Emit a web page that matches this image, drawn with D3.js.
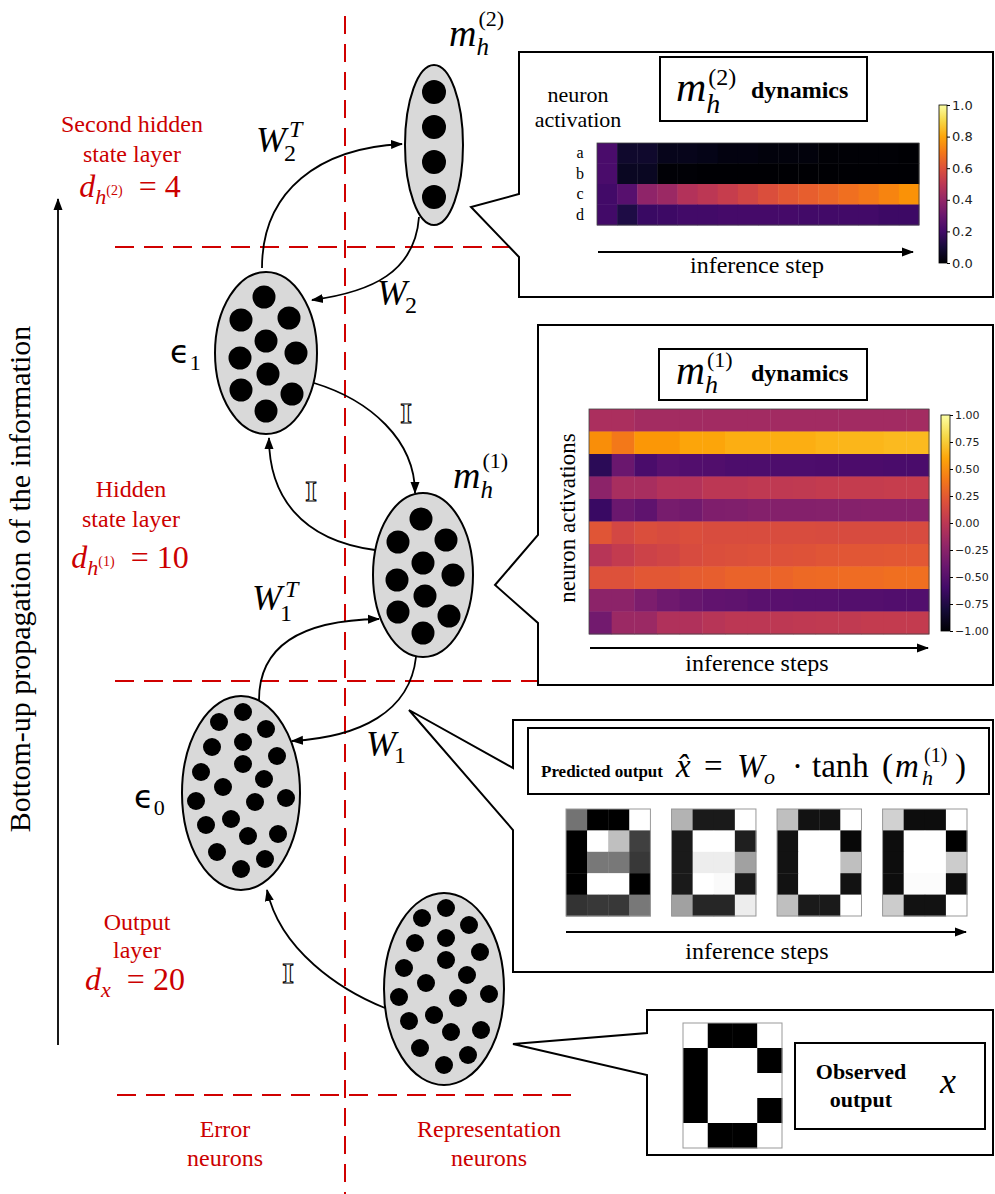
<!DOCTYPE html>
<meta charset="utf-8">
<head>
<script src="https://d3js.org/d3.v7.min.js"></script>
<style>
body { margin: 0; background: #fff; }
text { font-family: "Liberation Serif", "Times New Roman", serif; }
.cbar text { font-family: "DejaVu Sans", sans-serif; fill: #222; }
.eps { font-family: "DejaVu Sans", sans-serif; }
</style>
<div id="my_dataviz"></div>
</head>
<body>
<script>
// ---------- values ----------

// top heatmap : m_h^(2), 4 neurons x 16 inference steps, range 0..1
var m2Neurons = ["a", "b", "c", "d"];
var m2Activity = [
  [0.22, 0.08, 0.08, 0.05, 0.05, 0.04, 0.03, 0.03, 0.02, 0.02, 0.02, 0.01, 0.01, 0.01, 0.01, 0.00],
  [0.22, 0.06, 0.06, 0.01, 0.01, 0.00, 0.00, 0.00, 0.00, 0.00, 0.00, 0.00, 0.00, 0.00, 0.00, 0.00],
  [0.20, 0.25, 0.39, 0.42, 0.48, 0.50, 0.53, 0.56, 0.59, 0.62, 0.64, 0.66, 0.68, 0.70, 0.73, 0.76],
  [0.20, 0.12, 0.18, 0.19, 0.20, 0.20, 0.21, 0.21, 0.21, 0.21, 0.20, 0.20, 0.20, 0.20, 0.19, 0.19]
];
var m2Ticks = [0, 0.2, 0.4, 0.6, 0.8, 1.0];

// middle heatmap : m_h^(1), 10 neurons x 15 inference steps, range -1..1
var m1Activity = [
  [-0.08, -0.08, -0.12, -0.12, -0.13, -0.13, -0.13, -0.13, -0.13, -0.13, -0.13, -0.13, -0.13, -0.13, -0.12],
  [ 0.50,  0.40,  0.54,  0.54,  0.60,  0.60,  0.64,  0.64,  0.64,  0.64,  0.66,  0.67,  0.67,  0.68,  0.68],
  [-0.70, -0.40, -0.56, -0.50, -0.52, -0.53, -0.54, -0.54, -0.54, -0.54, -0.55, -0.55, -0.55, -0.56, -0.56],
  [-0.24, -0.10, -0.10, -0.04, -0.04,  0.00,  0.00,  0.02,  0.02,  0.03,  0.04,  0.05,  0.05,  0.06,  0.06],
  [-0.64, -0.40, -0.46, -0.34, -0.36, -0.30, -0.29, -0.28, -0.28, -0.28, -0.27, -0.27, -0.26, -0.26, -0.26],
  [ 0.22,  0.14,  0.18,  0.16,  0.18,  0.17,  0.17,  0.17,  0.17,  0.17,  0.16,  0.16,  0.16,  0.16,  0.16],
  [-0.02,  0.04,  0.10,  0.12,  0.16,  0.18,  0.19,  0.20,  0.20,  0.21,  0.22,  0.23,  0.23,  0.24,  0.24],
  [ 0.20,  0.20,  0.24,  0.24,  0.26,  0.28,  0.30,  0.30,  0.31,  0.33,  0.34,  0.35,  0.35,  0.36,  0.36],
  [-0.24, -0.24, -0.32, -0.38, -0.42, -0.45, -0.46, -0.48, -0.49, -0.50, -0.50, -0.51, -0.51, -0.52, -0.52],
  [-0.36, -0.16, -0.16, -0.06, -0.06, -0.02,  0.00,  0.00,  0.01,  0.02,  0.03,  0.03,  0.04,  0.04,  0.04]
];
var m1Ticks = [-1, -0.75, -0.5, -0.25, 0, 0.25, 0.5, 0.75, 1];

// 4x5 images, row by row, 0 = black, 1 = white
var imgCols = 4, imgRows = 5;
var predictedFrames = [
  [0.45, 0.00, 0.00, 1.00,  0.00, 1.00, 0.75, 0.25,  0.00, 0.47, 0.47, 0.22,  0.00, 1.00, 1.00, 0.00,  0.20, 0.22, 0.22, 0.47],
  [0.70, 0.10, 0.10, 1.00,  0.10, 1.00, 1.00, 0.12,  0.10, 0.93, 0.93, 0.63,  0.10, 1.00, 0.98, 0.10,  0.63, 0.15, 0.15, 0.93],
  [0.75, 0.07, 0.07, 1.00,  0.07, 1.00, 1.00, 0.03,  0.07, 1.00, 1.00, 0.75,  0.07, 1.00, 1.00, 0.07,  0.75, 0.10, 0.10, 1.00],
  [0.82, 0.05, 0.05, 1.00,  0.05, 1.00, 1.00, 0.00,  0.05, 1.00, 1.00, 0.80,  0.05, 0.99, 0.99, 0.05,  0.80, 0.07, 0.07, 1.00]
];
var observedImage = [1, 0, 0, 1,  0, 1, 1, 0,  0, 1, 1, 1,  0, 1, 1, 0,  1, 0, 0, 1];

// ---------- layout ----------
var red = "#cc0000";
var svg = d3.select("#my_dataviz")
  .append("svg")
    .attr("width", 995)
    .attr("height", 1194);

var defs = svg.append("defs");
defs.append("marker")
    .attr("id", "arr")
    .attr("viewBox", "0 -5 12 10")
    .attr("refX", 11).attr("refY", 0)
    .attr("markerWidth", 12).attr("markerHeight", 10)
    .attr("markerUnits", "userSpaceOnUse")
    .attr("orient", "auto")
  .append("path")
    .attr("d", "M0,-4.5L12,0L0,4.5Z")
    .attr("fill", "#000");

// dashed red separators
var dashed = svg.append("g")
    .attr("stroke", "#d00000")
    .attr("stroke-width", 2)
    .attr("fill", "none");
dashed.append("line").attr("x1", 345).attr("x2", 345).attr("y1", 16).attr("y2", 1194)
    .attr("stroke-dasharray", "18,10");
[[247, 115, 517], [681, 115, 540], [1095, 117, 578]].forEach(function(l) {
  dashed.append("line").attr("x1", l[1]).attr("x2", l[2]).attr("y1", l[0]).attr("y2", l[0])
      .attr("stroke-dasharray", "19,10");
});

// speech-bubble callouts
var bubbles = [
  "M519,52 L993,52 L993,297 L519,297 L519,257 L471,207 L519,194 Z",
  "M538,325 L993,325 L993,685 L538,685 L538,623 L495,585 L538,535 Z",
  "M513,720 L993,720 L993,972 L513,972 L513,830 L409,710 L513,768 Z",
  "M647,1010 L993,1010 L993,1155 L647,1155 L647,1075 L513,1044 L647,1033 Z"
];
svg.append("g").selectAll("path")
  .data(bubbles)
  .enter().append("path")
    .attr("d", function(d) { return d; })
    .attr("fill", "#fff")
    .attr("stroke", "#000")
    .attr("stroke-width", 2);

// neuron populations
var dots4 = [[0, -53], [0, -18], [0, 17], [0, 52]];
var dots10 = [[-2, -56], [-25, -33], [23, -35], [0, -12], [-26, 5], [30, 0], [2, 21], [-25, 37], [26, 41], [0, 58]];
var dots20 = [[2, -81], [-22, -71], [25, -64], [-29, -46], [2, -51], [36, -37], [2, -29], [-40, -21], [23, -14], [-18, -6],
              [-45, 8], [14, 9], [45, 5], [-10, 26], [-35, 32], [7, 43], [37, 41], [-24, 59], [24, 66], [0, 76]];
var nodes = [
  {cx: 434, cy: 145, rx: 29, ry: 80, dots: dots4,  r: 12},
  {cx: 266, cy: 353, rx: 51, ry: 81, dots: dots10, r: 11.5},
  {cx: 423, cy: 575, rx: 50, ry: 82, dots: dots10, r: 11.5},
  {cx: 241, cy: 793, rx: 59, ry: 97, dots: dots20, r: 9},
  {cx: 444, cy: 989, rx: 60, ry: 96, dots: dots20, r: 9}
];
var nodeG = svg.append("g").selectAll("g")
  .data(nodes)
  .enter().append("g")
    .attr("transform", function(d) { return "translate(" + d.cx + "," + d.cy + ")"; });
nodeG.append("ellipse")
    .attr("rx", function(d) { return d.rx; })
    .attr("ry", function(d) { return d.ry; })
    .attr("fill", "#d9d9d9")
    .attr("stroke", "#000")
    .attr("stroke-width", 2);
nodeG.selectAll("circle")
  .data(function(d) { return d.dots.map(function(p) { return {x: p[0], y: p[1], r: d.r}; }); })
  .enter().append("circle")
    .attr("cx", function(d) { return d.x; })
    .attr("cy", function(d) { return d.y; })
    .attr("r", function(d) { return d.r; })
    .attr("fill", "#000");

// connections between populations
var links = [
  [[262, 268], [262, 190], [320, 148], [402, 144]],
  [[419, 217], [415, 272], [372, 292], [312, 300]],
  [[314, 383], [370, 400], [415, 440], [415, 493]],
  [[375, 550], [300, 540], [269, 495], [269, 438]],
  [[259, 700], [259, 640], [310, 620], [379, 619]],
  [[416, 657], [410, 712], [360, 737], [292, 741]],
  [[385, 1008], [340, 990], [280, 950], [267, 890]]
];
svg.append("g").selectAll("path")
  .data(links)
  .enter().append("path")
    .attr("d", function(c) {
      var p = d3.path();
      p.moveTo(c[0][0], c[0][1]);
      p.bezierCurveTo(c[1][0], c[1][1], c[2][0], c[2][1], c[3][0], c[3][1]);
      return p.toString();
    })
    .attr("fill", "none")
    .attr("stroke", "#000")
    .attr("stroke-width", 1.8)
    .attr("marker-end", "url(#arr)");

// math symbol with stacked sub / superscript
function mathSym(g, o) {
  var t = g.append("text")
      .attr("x", o.x).attr("y", o.y)
      .style("font-size", o.size + "px")
      .style("font-style", o.upright ? "normal" : "italic")
      .attr("class", o.cls || null)
      .attr("fill", o.fill || "#000")
      .text(o.base);
  var x1 = o.x + t.node().getComputedTextLength();
  if (o.sub) {
    g.append("text")
        .attr("x", x1 + (o.sub.dx || 0)).attr("y", o.y + o.sub.dy)
        .style("font-size", o.sub.size + "px")
        .style("font-style", o.sub.it ? "italic" : "normal")
        .attr("fill", o.fill || "#000")
        .text(o.sub.t);
  }
  if (o.sup) {
    g.append("text")
        .attr("x", x1 + (o.sup.dx || 0)).attr("y", o.y + o.sup.dy)
        .style("font-size", o.sup.size + "px")
        .style("font-style", o.sup.it ? "italic" : "normal")
        .attr("fill", o.fill || "#000")
        .text(o.sup.t);
  }
}

var lab = svg.append("g");
mathSym(lab, {x: 449, y: 46, size: 38, base: "m", sub: {t: "h", it: true, size: 25, dy: 9}, sup: {t: "(2)", size: 22, dy: -20, dx: 2}});
mathSym(lab, {x: 256, y: 152, size: 36, base: "W", sub: {t: "2", size: 24, dy: 9, dx: -2}, sup: {t: "T", it: true, size: 24, dy: -15, dx: 3}});
mathSym(lab, {x: 377, y: 305, size: 36, base: "W", sub: {t: "2", size: 24, dy: 8, dx: -2}});
mathSym(lab, {x: 170, y: 363, size: 32, base: "\u03f5", cls: "eps", upright: true, sub: {t: "1", size: 22, dy: 7}});
mathSym(lab, {x: 453, y: 488, size: 38, base: "m", sub: {t: "h", it: true, size: 25, dy: 10}, sup: {t: "(1)", size: 22, dy: -20, dx: 2}});
mathSym(lab, {x: 252, y: 610, size: 36, base: "W", sub: {t: "1", size: 24, dy: 11, dx: -2}, sup: {t: "T", it: true, size: 24, dy: -13, dx: 3}});
mathSym(lab, {x: 366, y: 756, size: 36, base: "W", sub: {t: "1", size: 24, dy: 7, dx: -2}});
mathSym(lab, {x: 134, y: 808, size: 32, base: "\u03f5", cls: "eps", upright: true, sub: {t: "0", size: 22, dy: 7}});

// identity-matrix symbol, drawn as an outlined serif "I"
lab.selectAll(".ident")
  .data([[406, 423], [311, 501], [288, 983]])
  .enter().append("text")
    .attr("x", function(d) { return d[0]; })
    .attr("y", function(d) { return d[1]; })
    .attr("text-anchor", "middle")
    .style("font-size", "30px")
    .style("font-weight", "bold")
    .attr("fill", "#fff")
    .attr("stroke", "#000")
    .attr("stroke-width", 1.1)
    .text("I");

// red layer annotations
var redG = svg.append("g").attr("fill", red).style("font-size", "24px").attr("text-anchor", "middle");
function redLines(x, ys, lines) {
  lines.forEach(function(s, i) { redG.append("text").attr("x", x).attr("y", ys[i]).text(s); });
}
redLines(132, [132, 162], ["Second hidden", "state layer"]);
redLines(131, [497, 527], ["Hidden", "state layer"]);
redLines(137, [930, 958], ["Output", "layer"]);
redLines(225, [1137, 1166], ["Error", "neurons"]);
redLines(489, [1137, 1166], ["Representation", "neurons"]);

function dimLabel(x, y, sub, sup, val) {
  var t = redG.append("text").attr("x", x).attr("y", y).style("font-size", "32px");
  t.append("tspan").style("font-style", "italic").text("d");
  t.append("tspan").style("font-style", "italic").style("font-size", "22px").attr("dy", 7).text(sub);
  if (sup) t.append("tspan").style("font-size", "14px").attr("dy", -9).text(sup);
  t.append("tspan").attr("dy", sup ? 2 : -7).text("\u2002= " + val);
}
dimLabel(130, 197, "h", "(2)", "4");
dimLabel(130, 568, "h", "(1)", "10");
dimLabel(135, 990, "x", null, "20");

// left arrow + rotated caption
svg.append("line")
    .attr("x1", 58).attr("x2", 58).attr("y1", 1045).attr("y2", 199)
    .attr("stroke", "#000").attr("stroke-width", 1.8)
    .attr("marker-end", "url(#arr)");
svg.append("text")
    .attr("transform", "translate(30,579) rotate(-90)")
    .attr("text-anchor", "middle")
    .style("font-size", "30px")
    .text("Bottom-up propagation of the information");

// ---------- heatmaps ----------
function heatmap(g, values, xr, yr, color) {
  var cells = [];
  values.forEach(function(row, i) {
    row.forEach(function(v, j) { cells.push({i: i, j: j, v: v}); });
  });
  var x = d3.scaleBand().domain(d3.range(values[0].length)).range(xr);
  var y = d3.scaleBand().domain(d3.range(values.length)).range(yr);
  g.selectAll(null)
    .data(cells)
    .enter().append("rect")
      .attr("x", function(d) { return x(d.j); })
      .attr("y", function(d) { return y(d.i); })
      .attr("width", x.bandwidth() + 0.4)
      .attr("height", y.bandwidth() + 0.4)
      .attr("fill", function(d) { return color(d.v); });
  g.append("rect")
      .attr("x", xr[0]).attr("y", yr[0])
      .attr("width", xr[1] - xr[0]).attr("height", yr[1] - yr[0])
      .attr("fill", "none").attr("stroke", "#444").attr("stroke-width", 0.8);
  return y;
}

function colorbar(g, id, domain, ticks, fmt, x, y0, y1, w, fontSize) {
  var grad = defs.append("linearGradient").attr("id", id)
      .attr("x1", 0).attr("x2", 0).attr("y1", 1).attr("y2", 0);
  d3.range(11).forEach(function(i) {
    grad.append("stop").attr("offset", i / 10).attr("stop-color", d3.interpolateInferno(i / 10));
  });
  g.append("rect")
      .attr("x", x).attr("y", y0).attr("width", w).attr("height", y1 - y0)
      .attr("fill", "url(#" + id + ")").attr("stroke", "#000").attr("stroke-width", 0.8);
  var s = d3.scaleLinear().domain(domain).range([y1, y0]);
  var ax = g.append("g")
      .attr("class", "cbar")
      .attr("transform", "translate(" + (x + w) + ",0)")
      .call(d3.axisRight(s).tickValues(ticks).tickSize(3).tickPadding(2).tickFormat(d3.format(fmt)));
  ax.select(".domain").remove();
  ax.selectAll("text").style("font-size", fontSize + "px");
}

// callout 1 : m_h^(2) dynamics
var c1 = svg.append("g");
var c1Color = d3.scaleSequential(d3.interpolateInferno).domain([0, 1]);
var yA = heatmap(c1, m2Activity, [597, 919], [143, 225], c1Color);
c1.selectAll(".rowlab")
  .data(m2Neurons)
  .enter().append("text")
    .attr("x", 580)
    .attr("y", function(d, i) { return yA(i) + yA.bandwidth() / 2; })
    .attr("dy", "0.3em")
    .attr("text-anchor", "middle")
    .style("font-size", "16px")
    .text(function(d) { return d; });
colorbar(c1, "cb1", [0, 1], m2Ticks, ".1f", 939, 105, 263, 8, 13);
c1.append("text").attr("x", 578).attr("y", 102).attr("text-anchor", "middle").style("font-size", "22px").text("neuron");
c1.append("text").attr("x", 578).attr("y", 127).attr("text-anchor", "middle").style("font-size", "22px").text("activation");
c1.append("line").attr("x1", 598).attr("x2", 913).attr("y1", 252).attr("y2", 252)
    .attr("stroke", "#000").attr("stroke-width", 1.8).attr("marker-end", "url(#arr)");
c1.append("text").attr("x", 757).attr("y", 273).attr("text-anchor", "middle").style("font-size", "24px").text("inference step");
c1.append("rect").attr("x", 660).attr("y", 57).attr("width", 207).attr("height", 64)
    .attr("fill", "#fff").attr("stroke", "#000").attr("stroke-width", 2);
mathSym(c1, {x: 676, y: 101, size: 42, base: "m", sub: {t: "h", it: true, size: 28, dy: 12}, sup: {t: "(2)", size: 24, dy: -16, dx: 2}});
c1.append("text").attr("x", 751).attr("y", 98).style("font-size", "24px").style("font-weight", "bold").text("dynamics");

// callout 2 : m_h^(1) dynamics
var c2 = svg.append("g");
var c2Color = d3.scaleSequential(d3.interpolateInferno).domain([-1, 1]);
heatmap(c2, m1Activity, [589, 929], [409, 634], c2Color);
colorbar(c2, "cb2", [-1, 1], m1Ticks, ".2f", 941, 415, 631, 9, 11);
c2.append("text")
    .attr("transform", "translate(575,518) rotate(-90)")
    .attr("text-anchor", "middle")
    .style("font-size", "23px")
    .text("neuron activations");
c2.append("line").attr("x1", 590).attr("x2", 928).attr("y1", 648).attr("y2", 648)
    .attr("stroke", "#000").attr("stroke-width", 1.8).attr("marker-end", "url(#arr)");
c2.append("text").attr("x", 757).attr("y", 671).attr("text-anchor", "middle").style("font-size", "24px").text("inference steps");
c2.append("rect").attr("x", 659).attr("y", 349).attr("width", 208).attr("height", 51)
    .attr("fill", "#fff").attr("stroke", "#000").attr("stroke-width", 2);
mathSym(c2, {x: 676, y: 384, size: 40, base: "m", sub: {t: "h", it: true, size: 26, dy: 9}, sup: {t: "(1)", size: 22, dy: -17, dx: 2}});
c2.append("text").attr("x", 751).attr("y", 381).style("font-size", "24px").style("font-weight", "bold").text("dynamics");

// callout 3 : predicted output frames
var c3 = svg.append("g");
var grey = d3.scaleLinear().domain([0, 1]).range(["#000", "#fff"]);
function pixelImage(g, vals, x0, x1, y0, y1) {
  var cx = d3.scaleBand().domain(d3.range(imgCols)).range([x0, x1]);
  var cy = d3.scaleBand().domain(d3.range(imgRows)).range([y0, y1]);
  g.selectAll(null)
    .data(vals)
    .enter().append("rect")
      .attr("x", function(d, i) { return cx(i % imgCols); })
      .attr("y", function(d, i) { return cy(Math.floor(i / imgCols)); })
      .attr("width", cx.bandwidth() + 0.4)
      .attr("height", cy.bandwidth() + 0.4)
      .attr("fill", function(d) { return grey(d); });
  g.append("rect")
      .attr("x", x0).attr("y", y0).attr("width", x1 - x0).attr("height", y1 - y0)
      .attr("fill", "none").attr("stroke", "#999").attr("stroke-width", 1);
}
var frameX = d3.scaleBand().domain(d3.range(predictedFrames.length)).range([566, 967]).paddingInner(0.2);
predictedFrames.forEach(function(f, k) {
  pixelImage(c3.append("g"), f, frameX(k), frameX(k) + frameX.bandwidth(), 809, 916);
});
c3.append("line").attr("x1", 566).attr("x2", 966).attr("y1", 932).attr("y2", 932)
    .attr("stroke", "#000").attr("stroke-width", 1.8).attr("marker-end", "url(#arr)");
c3.append("text").attr("x", 757).attr("y", 959).attr("text-anchor", "middle").style("font-size", "24px").text("inference steps");
c3.append("rect").attr("x", 528).attr("y", 728).attr("width", 461).attr("height", 66)
    .attr("fill", "#fff").attr("stroke", "#000").attr("stroke-width", 2);
c3.append("text").attr("x", 541).attr("y", 777).style("font-size", "17px").style("font-weight", "bold").text("Predicted output");

// formula pieces: [text, x, dy, size, italic]
var formula = [
  ["x\u0302", 676, 0, 33, true],
  ["=", 704, 0, 33, false],
  ["W", 737, 0, 33, true],
  ["o", 764, 7, 22, true],
  ["\u00b7", 792, 0, 33, false],
  ["tanh", 812, 0, 33, false],
  ["(", 882, 0, 33, false],
  ["m", 895, 0, 33, true],
  ["h", 922, 8, 22, true],
  ["(1)", 924, -15, 20, false],
  [")", 955, 0, 33, false]
];
c3.selectAll(".fpiece")
  .data(formula)
  .enter().append("text")
    .attr("x", function(d) { return d[1]; })
    .attr("y", function(d) { return 777 + d[2]; })
    .style("font-size", function(d) { return d[3] + "px"; })
    .style("font-style", function(d) { return d[4] ? "italic" : "normal"; })
    .text(function(d) { return d[0]; });

// callout 4 : observed output
var c4 = svg.append("g");
pixelImage(c4, observedImage, 683, 782, 1023, 1148);
c4.append("rect").attr("x", 795).attr("y", 1043).attr("width", 190).attr("height", 86)
    .attr("fill", "#fff").attr("stroke", "#000").attr("stroke-width", 2);
c4.append("text").attr("x", 861).attr("y", 1079).attr("text-anchor", "middle").style("font-size", "22px").style("font-weight", "bold").text("Observed");
c4.append("text").attr("x", 861).attr("y", 1107).attr("text-anchor", "middle").style("font-size", "22px").style("font-weight", "bold").text("output");
c4.append("text").attr("x", 940).attr("y", 1093).style("font-size", "36px").style("font-style", "italic").text("x");
</script>
</body>
